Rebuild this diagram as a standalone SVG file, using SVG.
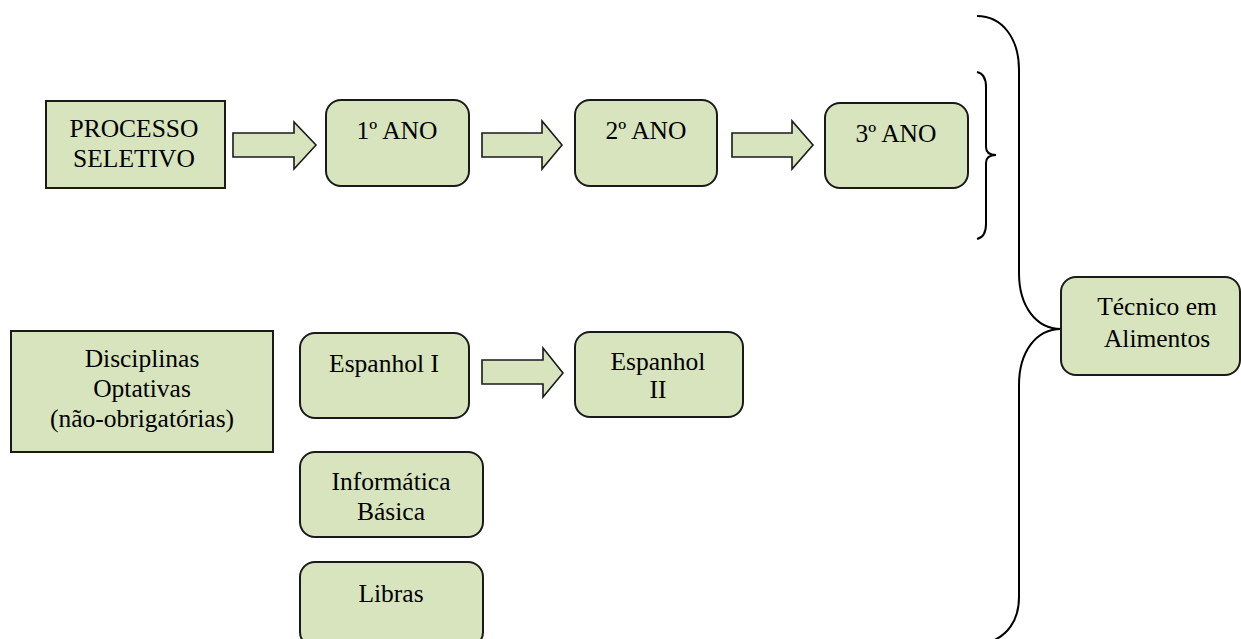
<svg xmlns="http://www.w3.org/2000/svg" width="1241" height="639" viewBox="0 0 1241 639">
<style>
.box{fill:#d7e4bd;stroke:#1a1a1a;stroke-width:2}
.arr{fill:#d7e4bd;stroke:#1a1a1a;stroke-width:1.6;stroke-linejoin:miter}
.br{fill:none;stroke:#000;stroke-width:2}
text{font-family:"Liberation Serif","Times New Roman",serif;font-size:25.5px;fill:#000;text-anchor:middle}
</style>
<rect width="1241" height="639" fill="#fff"/>
<g id="connectors">
<path class="arr" d="M233,133 H294 V122 L316,145 L294,169 V157 H233 Z"/>
<path class="arr" d="M482,133 H542 V121 L562,145 L542,169 V157 H482 Z"/>
<path class="arr" d="M732,133 H792 V121 L813,145 L792,169 V157 H732 Z"/>
<path class="arr" d="M482,360 H543 V348 L563,373 L543,397 V384 H482 Z"/>
<path class="br" d="M977,72 Q986,74 986,87 V147 Q986,155 996,155 Q986,155 986,163 V224 Q986,237 977,239"/>
<path class="br" d="M977,16 C1002,16 1019,38 1019,70 V273 C1019,306 1036,329 1061,329 C1036,329 1019,352 1019,385 V597 C1019,622 1006,636 990,642"/>
</g>
<g id="processo"><rect class="box" x="46" y="101" width="179" height="87"/><text x="134" y="137">PROCESSO</text><text x="134" y="167">SELETIVO</text></g>
<g id="ano1"><rect class="box" x="326" y="100" width="143" height="86" rx="15"/><text x="397" y="139">1º ANO</text></g>
<g id="ano2"><rect class="box" x="575" y="100" width="142" height="86" rx="15"/><text x="646" y="139">2º ANO</text></g>
<g id="ano3"><rect class="box" x="825" y="103" width="143" height="85" rx="15"/><text x="896" y="142">3º ANO</text></g>
<g id="tecnico"><rect class="box" x="1061" y="277" width="179" height="98" rx="15"/><text x="1157" y="315">Técnico em</text><text x="1157" y="347">Alimentos</text></g>
<g id="disciplinas"><rect class="box" x="11" y="331" width="262" height="121"/><text x="142" y="367">Disciplinas</text><text x="142" y="397">Optativas</text><text x="142" y="427">(não-obrigatórias)</text></g>
<g id="espanhol1"><rect class="box" x="300" y="333" width="169" height="85" rx="15"/><text x="384" y="372">Espanhol I</text></g>
<g id="espanhol2"><rect class="box" x="575" y="332" width="168" height="85" rx="15"/><text x="658" y="370">Espanhol</text><text x="658" y="398">II</text></g>
<g id="informatica"><rect class="box" x="300" y="452" width="183" height="85" rx="15"/><text x="391" y="490">Informática</text><text x="391" y="520">Básica</text></g>
<g id="libras"><rect class="box" x="300" y="562" width="183" height="85" rx="15"/><text x="391" y="602">Libras</text></g>
</svg>
